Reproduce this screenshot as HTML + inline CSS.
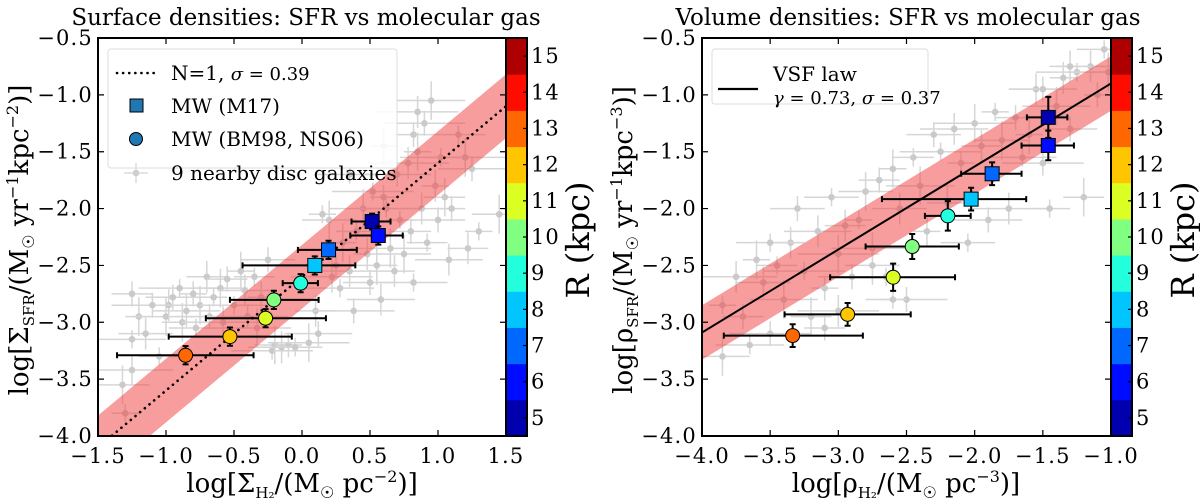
<!DOCTYPE html>
<html><head><meta charset="utf-8"><style>
html,body{margin:0;padding:0;background:#fff;width:1200px;height:504px;overflow:hidden}
</style></head><body>
<svg id="fig" width="1200" height="504" viewBox="0 0 1200 504" xmlns="http://www.w3.org/2000/svg" font-family="DejaVu Serif, Liberation Serif, serif"></svg>
<script>
// ---- Left panel data ----
const leftMwX=[-0.856,-0.53,-0.268,-0.207,-0.010,0.094,0.195,0.516,0.561];
const leftMwY=[-3.29,-3.126,-2.964,-2.803,-2.656,-2.50,-2.363,-2.114,-2.237];
const leftMwXlo=[-1.36,-0.98,-0.707,-0.53,-0.142,-0.437,-0.03,0.364,0.355];
const leftMwXhi=[-0.356,-0.075,0.176,0.122,0.117,0.392,0.403,0.651,0.741];
const leftMwYerr=[0.08,0.08,0.08,0.08,0.08,0.08,0.08,0.07,0.08];
const leftMwR=[13,12,11,10,9,8,7,5,6];
const leftMwSquare=[0,0,0,0,0,1,1,1,1];
const leftGreyX=[-1.3,-1.32,-1.25,-1.25,-1.25,-1.2,-1.15,-1.1,-1.05,-1.0,-0.98,-0.95,-0.9,-0.88,-0.85,-0.8,-0.78,-0.75,-0.7,-0.68,-0.65,-0.6,-0.58,-0.55,-0.5,-0.45,-0.42,-0.4,-0.35,-0.33,-0.3,-0.25,-0.22,-0.2,-0.15,-0.1,-0.05,0.05,0.1,0.12,0.15,0.2,0.22,0.25,0.28,0.3,0.35,0.38,0.4,0.45,0.48,0.5,0.52,0.55,0.58,0.6,0.62,0.65,0.68,0.7,0.72,0.75,0.78,0.8,0.82,0.85,0.88,0.9,0.92,0.95,0.98,1.0,1.02,1.05,1.08,1.1,1.15,1.2,1.22,1.25,1.3,1.45,0.85,0.82,0.35,0.6];
const leftGreyY=[-3.8,-3.55,-3.42,-2.75,-3.15,-2.95,-3.1,-2.85,-3.3,-2.95,-2.85,-2.78,-2.7,-3.0,-2.9,-2.75,-3.05,-2.85,-2.6,-2.95,-2.78,-2.7,-3.0,-2.62,-2.85,-2.55,-2.72,-2.95,-2.6,-3.05,-2.78,-2.45,-3.25,-3.2,-3.22,-3.2,-3.22,-3.18,-2.9,-3.1,-2.05,-2.1,-2.6,-2.5,-2.7,-2.3,-2.55,-2.9,-2.2,-2.0,-2.4,-2.65,-1.85,-2.5,-2.8,-1.9,-2.0,-2.35,-2.55,-1.7,-2.1,-2.4,-1.6,-2.2,-2.65,-1.5,-2.0,-1.25,-2.3,-1.05,-1.8,-2.1,-1.55,-1.9,-2.45,-2.0,-1.35,-1.55,-2.35,-1.65,-2.2,-2.05,-1.15,-1.35,-1.7,-1.45];
const leftXTicks=[-1.5,-1.0,-0.5,0.0,0.5,1.0,1.5];
const leftYTicks=[-4.0,-3.5,-3.0,-2.5,-2.0,-1.5,-1.0,-0.5];
const leftFit=[1.0,-2.6,0.28];

// ---- Right panel data ----
const rightMwX=[-3.335,-2.932,-2.598,-2.458,-2.197,-2.026,-1.872,-1.46,-1.46];
const rightMwY=[-3.117,-2.93,-2.604,-2.334,-2.064,-1.917,-1.694,-1.445,-1.198];
const rightMwXlo=[-3.84,-3.394,-3.06,-2.80,-2.365,-2.68,-2.099,-1.656,-1.617];
const rightMwXhi=[-2.82,-2.469,-2.144,-2.116,-2.029,-1.622,-1.656,-1.272,-1.32];
const rightMwYerr=[0.1,0.1,0.12,0.11,0.13,0.1,0.1,0.13,0.18];
const rightMwR=[13,12,11,10,9,8,7,6,5];
const rightMwSquare=[0,0,0,0,0,1,1,1,1];
const rightGreyX=[-3.85,-3.85,-3.75,-3.7,-3.65,-3.6,-3.55,-3.5,-3.45,-3.4,-3.35,-3.3,-3.25,-3.2,-3.15,-3.1,-3.05,-3.0,-2.95,-2.9,-2.85,-2.8,-2.75,-2.7,-2.65,-2.6,-2.55,-2.5,-2.45,-2.4,-2.35,-2.3,-2.25,-2.2,-2.15,-2.1,-2.05,-2.0,-1.95,-1.9,-1.85,-1.8,-1.75,-1.7,-1.65,-1.6,-1.55,-1.5,-1.45,-1.4,-1.35,-1.3,-1.25,-1.2,-1.15,-1.1,-1.05,-1.02,-1.3,-1.5,-2.6,-2.75,-3.0,-3.1,-3.5];
const rightGreyY=[-2.85,-3.3,-2.6,-2.95,-3.2,-2.45,-2.65,-3.1,-2.5,-2.8,-2.3,-2.0,-2.55,-2.95,-2.2,-2.7,-1.9,-2.4,-2.15,-2.6,-2.1,-1.85,-2.35,-1.75,-2.6,-1.65,-2.0,-2.8,-1.55,-1.8,-2.2,-1.35,-1.5,-1.95,-1.3,-1.6,-2.3,-1.25,-1.45,-2.1,-1.15,-1.4,-2.0,-1.2,-1.55,-1.35,-0.95,-1.6,-2.0,-1.1,-0.85,-1.3,-0.8,-1.9,-0.75,-1.0,-0.6,-0.8,-0.75,-0.95,-2.8,-2.5,-2.9,-3.05,-2.3];
const rightXTicks=[-4.0,-3.5,-3.0,-2.5,-2.0,-1.5,-1.0];
const rightYTicks=[-4.0,-3.5,-3.0,-2.5,-2.0,-1.5,-1.0,-0.5];
const rightFit=[0.73,-0.17,0.24];

const cbTicks=[5,6,7,8,9,10,11,12,13,14,15];

const NS='http://www.w3.org/2000/svg';
const svg=document.getElementById('fig');
const FONT='DejaVu Serif, Liberation Serif, serif';
function el(tag,attrs,parent){const e=document.createElementNS(NS,tag);for(const k in attrs)e.setAttribute(k,attrs[k]);(parent||svg).appendChild(e);return e;}
function jet(v){
  const r=Math.min(Math.max(Math.min(4*v-1.5,-4*v+4.5),0),1);
  const g=Math.min(Math.max(Math.min(4*v-0.5,-4*v+3.5),0),1);
  const b=Math.min(Math.max(Math.min(4*v+0.5,-4*v+2.5),0),1);
  return `rgb(${Math.round(r*255)},${Math.round(g*255)},${Math.round(b*255)})`;
}
function rColor(R){const i=Math.round(R-5);return jet((i+0.5)/11);}

function panel(o){
  const g=el('g',{'font-family':FONT});
  
  
  const X=v=>o.x0+(v-o.xmin)/(o.xmax-o.xmin)*(o.x1-o.x0);
  const Y=v=>o.y1-(v-o.ymin)/(o.ymax-o.ymin)*(o.y1-o.y0);
  const clip=el('clipPath',{id:o.name+'-clip'},g);
  el('rect',{x:o.x0,y:o.y0,width:o.x1-o.x0,height:o.y1-o.y0},clip);
  const inner=el('g',{'clip-path':`url(#${o.name}-clip)`},g);
  for(let i=0;i<o.gx.length;i++){
    const gx=o.gx[i],gy=o.gy[i];
    const ex=0.1+((i*7)%5)*0.05, ey=0.08+((i*3)%4)*0.03;
    const ge=el('path',{d:`M${X(gx-ex)},${Y(gy)}H${X(gx+ex)}M${X(gx)},${Y(gy-ey)}V${Y(gy+ey)}`,stroke:'#d6d6d6','stroke-width':1.5,fill:'none'},inner);
    
    
    const c=el('circle',{cx:X(gx),cy:Y(gy),r:3.3,fill:'#cacaca'},inner);
    
    
  }
  const [m,b,w]=o.fit;
  const band=el('polygon',{points:`${X(o.xmin)},${Y(m*o.xmin+b+w)} ${X(o.xmax)},${Y(m*o.xmax+b+w)} ${X(o.xmax)},${Y(m*o.xmax+b-w)} ${X(o.xmin)},${Y(m*o.xmin+b-w)}`,fill:'rgba(240,60,60,0.5)'},inner);
  
  
  const ln=el('line',{x1:X(o.xmin),y1:Y(m*o.xmin+b),x2:X(o.xmax),y2:Y(m*o.xmax+b),stroke:'#000','stroke-width':o.dotted?2.6:2,'stroke-dasharray':o.dotted?'0.1 6':'none','stroke-linecap':'round'},inner);
  
  
  for(let i=0;i<o.mx.length;i++){
    const x=o.mx[i],y=o.my[i],ye=o.mye[i];
    const e=el('path',{d:`M${X(o.mxl[i])},${Y(y)}H${X(o.mxh[i])}M${X(o.mxl[i])},${Y(y)-3}v6M${X(o.mxh[i])},${Y(y)-3}v6M${X(x)},${Y(y-ye)}V${Y(y+ye)}M${X(x)-3},${Y(y-ye)}h6M${X(x)-3},${Y(y+ye)}h6`,stroke:'#000','stroke-width':2,fill:'none'},inner);
    
    
    let mk;
    if(o.sq[i]) mk=el('rect',{x:X(x)-7,y:Y(y)-7,width:14,height:14,fill:rColor(o.mr[i]),stroke:'#000','stroke-width':1},inner);
    else mk=el('circle',{cx:X(x),cy:Y(y),r:7,fill:rColor(o.mr[i]),stroke:'#000','stroke-width':1},inner);
    
    
  }
  const fr=el('rect',{x:o.x0,y:o.y0,width:o.x1-o.x0,height:o.y1-o.y0,fill:'none',stroke:'#000','stroke-width':2},g);
  
  
  o.xt.forEach(t=>{
    el('path',{d:`M${X(t)},${o.y1}v-6M${X(t)},${o.y0}v6`,stroke:'#000','stroke-width':1.2},g);
    const tx=el('text',{x:X(t),y:o.y1+27,'font-size':21,'letter-spacing':1.2,'text-anchor':'middle'},g);
    tx.textContent=t.toFixed(1).replace('-','\u2212');
    
    
  });
  o.yt.forEach(t=>{
    el('path',{d:`M${o.x0},${Y(t)}h6M${o.x1},${Y(t)}h-6`,stroke:'#000','stroke-width':1.2},g);
    const tx=el('text',{x:o.x0-5,y:Y(t)+7,'font-size':21,'letter-spacing':1.2,'text-anchor':'end'},g);
    tx.textContent=t.toFixed(1).replace('-','\u2212');
    
    
  });
  const cbx=o.x1, cbw=o.cbw;
  const cbY=v=>o.y1-(v-4.5)/11*(o.y1-o.y0);
  cbTicks.forEach(t=>{
    const r=el('rect',{x:cbx,y:cbY(t+0.5),width:cbw,height:cbY(t-0.5)-cbY(t+0.5)+0.5,fill:rColor(t)},g);
    
    
    el('path',{d:`M${cbx+cbw},${cbY(t)}h-4`,stroke:'#000','stroke-width':1.2},g);
    const tx=el('text',{x:cbx+cbw+4,y:cbY(t)+7,'font-size':21,'letter-spacing':1},g);
    tx.textContent=t;
    
    
  });
  el('rect',{x:cbx,y:o.y0,width:cbw,height:o.y1-o.y0,fill:'none',stroke:'#000','stroke-width':2},g);
  const cl=el('text',{x:0,y:0,'font-size':32,'text-anchor':'middle',transform:`translate(${cbx+cbw+62},240) rotate(-90)`},g);
  cl.textContent='R (kpc)';
  
  
  return g;
}

panel({name:'surface-panel',x0:98,x1:506,y0:38,y1:436,xmin:-1.5,xmax:1.5,ymin:-4,ymax:-0.5,cbw:21,
 gx:leftGreyX,gy:leftGreyY,fit:leftFit,dotted:true,mx:leftMwX,my:leftMwY,mxl:leftMwXlo,mxh:leftMwXhi,mye:leftMwYerr,mr:leftMwR,sq:leftMwSquare,xt:leftXTicks,yt:leftYTicks});
panel({name:'volume-panel',x0:702,x1:1111,y0:38,y1:436,xmin:-4,xmax:-1,ymin:-4,ymax:-0.5,cbw:21,
 gx:rightGreyX,gy:rightGreyY,fit:rightFit,dotted:false,mx:rightMwX,my:rightMwY,mxl:rightMwXlo,mxh:rightMwXhi,mye:rightMwYerr,mr:rightMwR,sq:rightMwSquare,xt:rightXTicks,yt:rightYTicks});
</script>
<svg width="1200" height="504" style="position:absolute;left:0;top:0" xmlns="http://www.w3.org/2000/svg">
<g font-family="DejaVu Serif, Liberation Serif, serif">
<text x="306" y="25" font-size="23" text-anchor="middle">Surface densities: SFR vs molecular gas</text>
<text x="908" y="25" font-size="23" text-anchor="middle">Volume densities: SFR vs molecular gas</text>
<text x="302" y="492" font-size="26" text-anchor="middle">log[Σ<tspan font-size="15" dy="6">H₂</tspan><tspan dy="-6">/(M</tspan><tspan font-size="16" dy="6">☉</tspan><tspan dy="-6"> pc</tspan><tspan font-size="16" dy="-10">−2</tspan><tspan dy="10">)]</tspan></text>
<text x="906" y="492" font-size="26" text-anchor="middle">log[ρ<tspan font-size="15" dy="6">H₂</tspan><tspan dy="-6">/(M</tspan><tspan font-size="16" dy="6">☉</tspan><tspan dy="-6"> pc</tspan><tspan font-size="16" dy="-10">−3</tspan><tspan dy="10">)]</tspan></text>
<text transform="translate(28,240) rotate(-90)" font-size="26" text-anchor="middle">log[Σ<tspan font-size="15" dy="6">SFR</tspan><tspan dy="-6">/(M</tspan><tspan font-size="16" dy="6">☉</tspan><tspan dy="-6"> yr</tspan><tspan font-size="16" dy="-10">−1</tspan><tspan dy="10">kpc</tspan><tspan font-size="16" dy="-10">−2</tspan><tspan dy="10">)]</tspan></text>
<text transform="translate(632,240) rotate(-90)" font-size="26" text-anchor="middle">log[ρ<tspan font-size="15" dy="6">SFR</tspan><tspan dy="-6">/(M</tspan><tspan font-size="16" dy="6">☉</tspan><tspan dy="-6"> yr</tspan><tspan font-size="16" dy="-10">−1</tspan><tspan dy="10">kpc</tspan><tspan font-size="16" dy="-10">−3</tspan><tspan dy="10">)]</tspan></text>
<g>
<rect x="108" y="49" width="289" height="119" rx="3" fill="rgba(255,255,255,0.85)" stroke="#ddd" stroke-width="1"/>
<line x1="117" y1="73" x2="154" y2="73" stroke="#000" stroke-width="2.6" stroke-dasharray="0.1 6" stroke-linecap="round"/>
<text x="171" y="80" font-size="20">N=1, <tspan font-style="italic" font-size="18">σ</tspan><tspan font-size="18"> = 0.39</tspan></text>
<rect x="130" y="99" width="13" height="13" fill="#1f77b4" stroke="#000" stroke-width="1"/>
<text x="171" y="113" font-size="20">MW (M17)</text>
<circle cx="136" cy="139" r="6.5" fill="#1f77b4" stroke="#000" stroke-width="1"/>
<text x="171" y="146" font-size="20">MW (BM98, NS06)</text>
<path d="M124,173H148M136,163V183" stroke="#dcdcdc" stroke-width="1.5"/>
<circle cx="136" cy="173" r="3.3" fill="#cfcfcf"/>
<text x="171" y="180" font-size="20">9 nearby disc galaxies</text>
</g>
<g>
<rect x="712" y="49" width="216" height="55" rx="3" fill="rgba(255,255,255,0.85)" stroke="#ddd" stroke-width="1"/>
<line x1="718" y1="89" x2="758" y2="89" stroke="#000" stroke-width="2.2"/>
<text x="773" y="81" font-size="20">VSF law</text>
<text x="773" y="104" font-size="18"><tspan font-style="italic">γ</tspan> = 0.73, <tspan font-style="italic">σ</tspan> = 0.37</text>
</g>
</g>
</svg>
</body></html>
